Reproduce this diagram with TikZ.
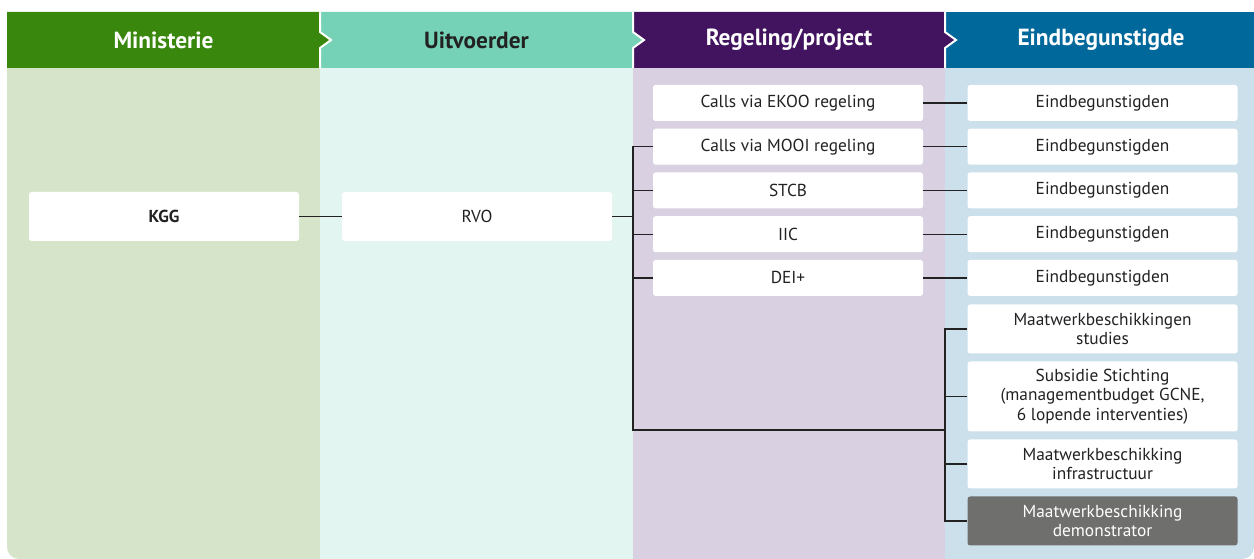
\documentclass[tikz,border=0pt]{standalone}
\usepackage{fontspec}
\setmainfont{PT Sans}
\usetikzlibrary{positioning}

\definecolor{groen}{HTML}{39870C}
\definecolor{lichtgroen}{HTML}{D6E5CA}
\definecolor{mint}{HTML}{76D2B6}
\definecolor{lichtmint}{HTML}{E2F5F0}
\definecolor{paars}{HTML}{42145F}
\definecolor{lichtpaars}{HTML}{D9D1E1}
\definecolor{blauw}{HTML}{01689B}
\definecolor{lichtblauw}{HTML}{CCE0EB}
\definecolor{grijs}{HTML}{6F6F6E}
\definecolor{tekst}{HTML}{222222}

\begin{document}
\begin{tikzpicture}[x=0.75pt, y=-0.75pt,
  kop/.style={font=\bfseries\fontsize{17.5}{20}\selectfont, text=white},
  blok/.style={fill=white, rounded corners=2pt, minimum width=202.5pt, minimum height=27pt,
    inner sep=0pt, align=center, text=tekst, font=\fontsize{13}{14.6}\selectfont},
  hoog/.style={minimum height=36.75pt},
  link/.style={draw=tekst, line width=0.9pt}]
\useasboundingbox (0,0) rectangle (1254,559);

\begin{scope}
\clip[rounded corners=9pt] (7,30) rectangle (1254,559);
\fill[lichtgroen] (7,68) rectangle (320,559);
\fill[lichtmint] (320,68) rectangle (633,559);
\fill[lichtpaars] (633,68) rectangle (945,559);
\fill[lichtblauw] (945,68) rectangle (1254,559);
\end{scope}

\fill[blauw] (945,12) rectangle (1254,68);
\foreach \l/\r/\c in {633/945/paars, 320/633/mint, 7/320/groen} {
  \fill[\c] (\l,12) -- (\r,12) -- (\r,32) -- (\r+11,40) -- (\r,48) -- (\r,68) -- (\l,68) -- cycle;
  \draw[white, line width=1.5pt] (\r,12) -- (\r,32) -- (\r+11,40) -- (\r,48) -- (\r,68);
}

\node[kop] (kopministerie) at (163.5,40) {Ministerie};
\node[kop, text=tekst] (kopuitvoerder) at (476.5,40) {Uitvoerder};
\node[kop] (kopregeling) at (789,40) {Regeling/project};
\node[kop] (kopeind) at (1101,40) {Eindbegunstigde};

\node[blok, hoog, font=\bfseries\fontsize{13}{14.6}\selectfont] (kgg) at (164,216.5) {KGG};
\node[blok, hoog] (rvo) at (477,216.5) {RVO};

\node[blok] (ekoo) at (788,103) {Calls via EKOO regeling};
\node[blok, below=5.4pt of ekoo] (mooi) {Calls via MOOI regeling};
\node[blok, below=5.4pt of mooi] (stcb) {STCB};
\node[blok, below=5.4pt of stcb] (iic) {IIC};
\node[blok, below=5.4pt of iic] (dei) {DEI+};

\foreach \r in {ekoo,mooi,stcb,iic,dei}
  \node[blok, right=33pt of \r] (eind\r) {Eindbegunstigden};

\node[blok, hoog, below=6pt of einddei] (studies) {Maatwerkbeschikkingen\\studies};
\node[blok, minimum height=52.5pt, below=5.6pt of studies] (stichting) {Subsidie Stichting\\(managementbudget GCNE,\\6 lopende interventies)};
\node[blok, hoog, below=5.6pt of stichting] (infra) {Maatwerkbeschikking\\infrastructuur};
\node[blok, hoog, below=5.6pt of infra, fill=grijs, text=white] (demo) {Maatwerkbeschikking\\demonstrator};

\coordinate (bus1) at (633,430);
\coordinate (bus2) at (945,430);

\draw[link] (kgg) -- (rvo);
\draw[link] (rvo.east) -- (rvo.east -| bus1);
\draw[link] (mooi.west) -| (bus1) -- (bus2);
\foreach \r in {stcb,iic,dei}
  \draw[link] (\r.west) -- (\r.west -| bus1);
\foreach \r in {ekoo,mooi,stcb,iic,dei}
  \draw[link] (\r.east) -- (eind\r.west);
\draw[link] (studies.west) -| (bus2) |- (demo.west);
\foreach \r in {stichting,infra}
  \draw[link] (\r.west) -- (\r.west -| bus2);
\end{tikzpicture}
\end{document}
